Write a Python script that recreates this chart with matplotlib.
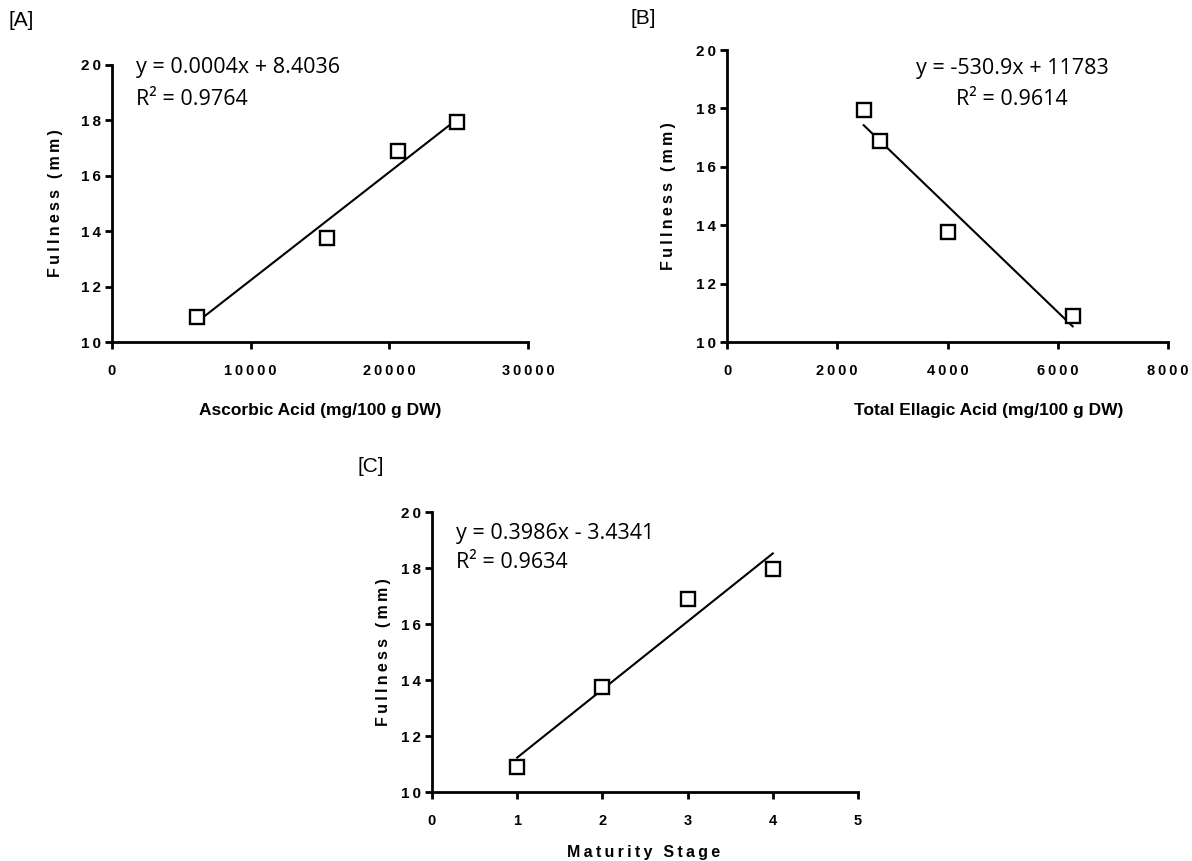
import numpy as np
import matplotlib
matplotlib.use("Agg")
import matplotlib.pyplot as plt
from matplotlib.ticker import FuncFormatter

plt.rcParams['font.family'] = ['Liberation Sans', 'DejaVu Sans']

# -----------------------------
# Data
# -----------------------------
fullness = [10.9, 13.75, 16.9, 17.95]

ascorbic = [6100, 15500, 20600, 24900]
ellagic = [6270, 4000, 2780, 2480]
stage = [1, 2, 3, 4]

eq_a = ["y = 0.0004x + 8.4036", "R\u00b2 = 0.9764"]
eq_b = ["y = -530.9x + 11783", "R\u00b2 = 0.9614"]
eq_c = ["y = 0.3986x - 3.4341", "R\u00b2 = 0.9634"]

W, H = 1192, 861
SP = '\u2009'


def spaced(s):
    return SP.join(s)


def tick_fmt(v, pos):
    return spaced("%d" % round(v))


def panel(rect_px, x, y, xmax, xticks, xlabel, xlabel_spaced, eq, eq_pos, eq_ha,
          xlab_pos, ylab_pos):
    l, t, r, b = rect_px
    ax = fig.add_axes([l / W, (H - b) / H, (r - l) / W, (b - t) / H])
    ax.plot(x, y, 's', ms=10, mfc='white', mec='black', mew=1.7, zorder=3,
            clip_on=False)
    k, c = np.polyfit(x, y, 1)
    xs = np.array([min(x), max(x)])
    ax.plot(xs, k * xs + c, color='black', lw=1.5, zorder=2)
    ax.set_xlim(0, xmax)
    ax.set_ylim(10, 20)
    ax.set_xticks(xticks)
    ax.set_yticks(np.arange(10, 21, 2))
    ax.xaxis.set_major_formatter(FuncFormatter(tick_fmt))
    ax.yaxis.set_major_formatter(FuncFormatter(tick_fmt))
    for s in ['top', 'right']:
        ax.spines[s].set_visible(False)
    for s in ['left', 'bottom']:
        ax.spines[s].set_linewidth(2.0)
    ax.tick_params(axis='both', length=5, width=2.0)
    ax.tick_params(axis='x', pad=11, labelsize=10.5)
    ax.tick_params(axis='y', pad=3, labelsize=11)
    for lab in ax.get_xticklabels() + ax.get_yticklabels():
        lab.set_fontweight('bold')
    ax.set_xlabel(spaced(xlabel) if xlabel_spaced else xlabel,
                  fontsize=12.5 if not xlabel_spaced else 11.5, fontweight='bold')
    ax.xaxis.set_label_coords(*xlab_pos)
    ax.set_ylabel(spaced("Fullness (mm)"), fontsize=11.5, fontweight='bold')
    ax.yaxis.set_label_coords(*ylab_pos)
    for txt, (ex, ey) in zip(eq, eq_pos):
        ax.text(ex, ey, txt, transform=ax.transAxes, ha=eq_ha, va='center',
                fontsize=15.5, family=['Open Sans', 'DejaVu Sans'])
    return ax


fig = plt.figure(figsize=(W / 100, H / 100), dpi=100)

panel((112, 65, 528, 342), ascorbic, fullness, 30000, [0, 10000, 20000, 30000],
      "Ascorbic Acid (mg/100 g DW)", False, eq_a,
      [(0.058, 0.99), (0.058, 0.877)], 'left', (0.5, -0.22), (-0.118, 0.5))

panel((727, 50, 1168, 342), ellagic, fullness, 8000, [0, 2000, 4000, 6000, 8000],
      "Total Ellagic Acid (mg/100 g DW)", False, eq_b,
      [(0.646, 0.938), (0.646, 0.829)], 'center', (0.594, -0.208), (-0.116, 0.5))

panel((432, 512, 858, 792), stage, fullness, 5, [0, 1, 2, 3, 4, 5],
      "Maturity Stage", True, eq_c,
      [(0.056, 0.925), (0.056, 0.818)], 'left', (0.497, -0.19), (-0.096, 0.5))

fig.text(8 / W, 1 - 20 / H, "[A]", fontsize=15, va='center', ha='left')
fig.text(630 / W, 1 - 18 / H, "[B]", fontsize=15, va='center', ha='left')
fig.text(357 / W, 1 - 466 / H, "[C]", fontsize=15, va='center', ha='left')

fig.savefig("out.png", dpi=100)
